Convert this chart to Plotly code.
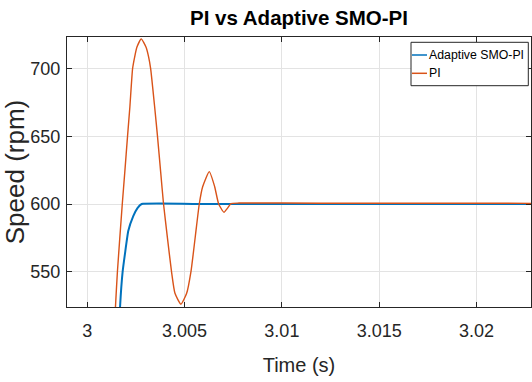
import plotly.graph_objects as go

# ---- data ----
smo_t = [3.00160, 3.001686, 3.001819, 3.002107, 3.002364, 3.00258, 3.002796, 3.0060, 3.0120, 3.0230]
smo_v = [490, 524, 550, 580, 591, 597, 600, 600, 600, 600]

pi_t = [3.00135, 3.00145, 3.00155, 3.00180, 3.00193, 3.00207, 3.00219, 3.00233, 3.002436,
        3.002554, 3.002775, 3.003017, 3.003155, 3.003258, 3.003464, 3.00361, 3.003772, 3.00392,
        3.00412, 3.00433, 3.004507, 3.004815, 3.005108, 3.005329, 3.005612, 3.005756, 3.00593,
        3.00627, 3.006547, 3.006753, 3.007025, 3.00721, 3.007385, 3.0078, 3.0120, 3.0230]
pi_v = [490, 524, 550, 600, 623.7, 650, 671.7, 700, 708.6,
        716, 722, 716, 708.6, 700, 671.7, 650, 623.7, 600,
        575, 550, 534, 526, 534, 550, 583.3, 600, 612.8,
        623.9, 612.8, 600, 593.9, 597, 600.3, 600.7, 600.6, 600.5]

x_ticks = [3, 3.005, 3.01, 3.015, 3.02]
x_tick_text = ["3", "3.005", "3.01", "3.015", "3.02"]
y_ticks = [550, 600, 650, 700]

x_range = [2.99896, 3.0228]
y_range = [523.9, 723.4]

BLUE = "#0072BD"
ORANGE = "#D95319"
FONT = "Liberation Sans, Arial, sans-serif"
TXT = "#262626"

fig = go.Figure()
fig.add_trace(go.Scatter(x=smo_t, y=smo_v, mode="lines", name="Adaptive SMO-PI",
                         line=dict(color=BLUE, width=2, shape="spline", smoothing=0.3)))
fig.add_trace(go.Scatter(x=pi_t, y=pi_v, mode="lines", name="PI",
                         line=dict(color=ORANGE, width=1.4, shape="spline", smoothing=0.5)))

axis_common = dict(showline=True, linecolor=TXT, linewidth=1, mirror="ticks",
                   ticks="inside", ticklen=5, tickcolor=TXT, tickwidth=1,
                   showgrid=True, gridcolor="#e3e3e3", gridwidth=1, zeroline=False,
                   tickfont=dict(family=FONT, size=18, color=TXT))

fig.update_xaxes(range=x_range, tickvals=x_ticks, ticktext=x_tick_text, ticklabelstandoff=7,
                 title=dict(text="Time (s)", font=dict(family=FONT, size=20, color=TXT), standoff=18),
                 **axis_common)
fig.update_yaxes(range=y_range, tickvals=y_ticks, ticklabelstandoff=2,
                 title=dict(text="Speed (rpm)", font=dict(family=FONT, size=26, color=TXT), standoff=5),
                 **axis_common)

# legend drawn as box + samples + labels in paper coordinates
W, H = 532, 382
L, R, T, B = 67, 1, 37, 75
pw, ph = W - L - R, H - T - B
def px(x): return (x - L) / pw
def py(y): return 1 - (y - T) / ph

shapes = [dict(type="rect", xref="paper", yref="paper", x0=px(411), x1=px(528.3), y0=py(85.7), y1=py(42.3),
               line=dict(color=TXT, width=1), fillcolor="white", layer="above")]
annotations = []
for name, col, yy in [("Adaptive SMO-PI", BLUE, 55), ("PI", ORANGE, 73.3)]:
    shapes.append(dict(type="line", xref="paper", yref="paper", x0=px(412), x1=px(427), y0=py(yy), y1=py(yy),
                       line=dict(color=col, width=1.5), layer="above"))
    annotations.append(dict(xref="paper", yref="paper", x=px(427), y=py(yy), text=name, showarrow=False,
                            xanchor="left", yanchor="middle", font=dict(family=FONT, size=12.3, color="black")))

fig.update_layout(
    width=W, height=H,
    margin=dict(l=L, r=R, t=T, b=B),
    paper_bgcolor="white", plot_bgcolor="white",
    showlegend=False,
    title=dict(text="<b>PI vs Adaptive SMO-PI</b>", x=px(299), xref="paper", xanchor="center",
               y=1 - 18 / H, yanchor="middle", font=dict(family=FONT, size=20.5, color="black")),
    shapes=shapes, annotations=annotations,
)

fig.write_html("out.html")
